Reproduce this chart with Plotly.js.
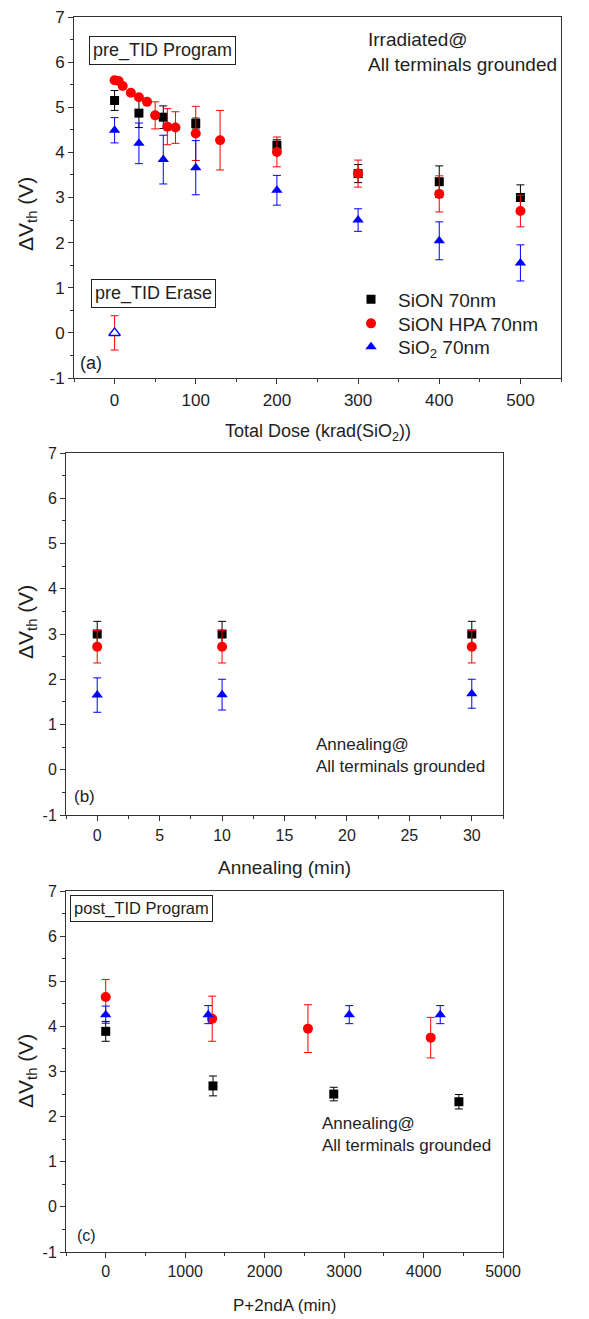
<!DOCTYPE html>
<html>
<head>
<meta charset="utf-8">
<script src="https://cdn.plot.ly/plotly-3.0.1.min.js"></script>
<style>
  html, body { margin: 0; padding: 0; background: #fff; }
  #chart { width: 589px; height: 1319px; }
</style>
</head>
<body>
<div id="chart"></div>
<script>
// ---- (a) threshold-voltage shift vs total ionizing dose ----
const doseBlack = [0, 30, 60, 100, 200, 300, 400, 500];
const vthBlack  = [5.15, 4.87, 4.78, 4.64, 4.16, 3.53, 3.35, 3.00];
const errBlack  = [0.22, 0.32, 0.25, 0.12, 0.12, 0.20, 0.35, 0.28];

const doseRed = [0, 5, 10, 20, 30, 40, 50, 65, 75, 100, 130, 200, 300, 400, 500];
const vthRed  = [5.60, 5.58, 5.47, 5.32, 5.22, 5.12, 4.82, 4.57, 4.55, 4.42, 4.27, 4.01, 3.53, 3.08, 2.70];
const errRed  = [0.04, 0.04, 0.04, 0.04, 0.04, 0.04, 0.30, 0.40, 0.35, 0.60, 0.66, 0.33, 0.30, 0.40, 0.35];

const doseBlue = [0, 30, 60, 100, 200, 300, 400, 500];
const vthBlue  = [4.49, 4.20, 3.84, 3.66, 3.16, 2.50, 2.04, 1.55];
const errBlue  = [0.28, 0.45, 0.54, 0.60, 0.33, 0.25, 0.42, 0.40];

// erased state before irradiation
const eraseDose   = [0];
const eraseRed    = [0.0];
const eraseRedErr = [0.38];
const eraseBlue   = [0.0];

// ---- (b) room-temperature annealing ----
const annealTime  = [0, 10, 30];
const annBlack    = [3.00, 3.00, 3.00];
const annBlackErr = [0.28, 0.28, 0.28];
const annRed      = [2.72, 2.72, 2.72];
const annRedErr   = [0.36, 0.36, 0.36];
const annBlue     = [1.65, 1.66, 1.68];
const annBlueErr  = [0.38, 0.34, 0.32];

// ---- (c) re-program after TID, then second annealing ----
const pTimeBlack = [0, 1350, 2870, 4445];
const pBlack     = [3.89, 2.68, 2.50, 2.33];
const pBlackErr  = [0.22, 0.22, 0.15, 0.16];
const pTimeRed   = [0, 1340, 2545, 4090];
const pRed       = [4.65, 4.17, 3.95, 3.75];
const pRedErr    = [0.39, 0.50, 0.53, 0.45];
const pTimeBlue  = [0, 1290, 3065, 4210];
const pBlue      = [4.26, 4.26, 4.26, 4.26];
const pBlueErr   = [0.19, 0.20, 0.20, 0.20];

// ---- tick labels ----
const vthTicks     = [-1, 0, 1, 2, 3, 4, 5, 6, 7];
const vthTickText  = ['-1', '0', '1', '2', '3', '4', '5', '6', '7'];
const doseTicks    = [0, 100, 200, 300, 400, 500];
const annealTicks  = [0, 5, 10, 15, 20, 25, 30];
const pTicks       = [0, 1000, 2000, 3000, 4000, 5000];

const seriesNames = ['SiON 70nm', 'SiON HPA 70nm', 'SiO<sub>2</sub> 70nm'];

// ---- styling ----
const FONT = 'Liberation Sans, Arial, sans-serif';
const TXT = '#1e1e1e';
const BLACK = '#000000', RED = '#ff0000', BLUE = '#0000ff';
const W = 589, H = 1319;
const px = x => x / W;
const py = y => 1 - y / H;

function errOpts(arr, color) {
  return { type: 'data', array: arr, visible: true, color: color, thickness: 1, width: 4 };
}
function series(x, y, err, color, symbol, size, name, xa, ya, legendId) {
  const t = {
    type: 'scatter', mode: 'markers', x: x, y: y, name: name,
    xaxis: xa, yaxis: ya, showlegend: !!legendId, cliponaxis: false,
    marker: { color: color, symbol: symbol, size: size, line: { width: 0 } },
    error_y: errOpts(err, color)
  };
  if (legendId) t.legend = legendId;
  return t;
}

const traces = [
  series(doseBlack, vthBlack, errBlack, BLACK, 'square', 9, seriesNames[0], 'x', 'y', 'legend'),
  series(doseRed, vthRed, errRed, RED, 'circle', 10, seriesNames[1], 'x', 'y', 'legend2'),
  series(doseBlue, vthBlue, errBlue, BLUE, 'triangle-up', 10, seriesNames[2], 'x', 'y', 'legend3'),
  // erase points: red error bar behind an open blue triangle
  {
    type: 'scatter', mode: 'markers', x: eraseDose, y: eraseRed, xaxis: 'x', yaxis: 'y',
    showlegend: false, marker: { color: RED, symbol: 'circle', size: 6 },
    error_y: errOpts(eraseRedErr, RED)
  },
  {
    type: 'scatter', mode: 'markers', x: eraseDose, y: eraseBlue, xaxis: 'x', yaxis: 'y',
    showlegend: false,
    marker: { color: '#ffffff', symbol: 'triangle-up', size: 10, line: { color: BLUE, width: 1.5 } }
  },

  series(annealTime, annBlack, annBlackErr, BLACK, 'square', 9, seriesNames[0], 'x2', 'y2', null),
  series(annealTime, annRed, annRedErr, RED, 'circle', 10, seriesNames[1], 'x2', 'y2', null),
  series(annealTime, annBlue, annBlueErr, BLUE, 'triangle-up', 10, seriesNames[2], 'x2', 'y2', null),

  series(pTimeBlack, pBlack, pBlackErr, BLACK, 'square', 9, seriesNames[0], 'x3', 'y3', null),
  series(pTimeRed, pRed, pRedErr, RED, 'circle', 10, seriesNames[1], 'x3', 'y3', null),
  series(pTimeBlue, pBlue, pBlueErr, BLUE, 'triangle-up', 10, seriesNames[2], 'x3', 'y3', null)
];

const axisBase = {
  showline: true, linecolor: '#333', linewidth: 1, mirror: true,
  ticks: 'outside', ticklen: 5, tickwidth: 1, tickcolor: '#333',
  showgrid: false, zeroline: false, fixedrange: true
};
function xAxis(domain, range, vals, minorStep, anchor, fs, standoff) {
  return Object.assign({}, axisBase, {
    domain: domain, range: range, anchor: anchor,
    tickfont: { family: FONT, size: fs, color: TXT },
    ticklabelstandoff: standoff,
    tickmode: 'array', tickvals: vals, ticktext: vals.map(String),
    minor: { ticks: 'outside', ticklen: 3, tickcolor: '#333', tick0: 0, dtick: minorStep, showgrid: false }
  });
}
function yAxis(domain, anchor, fs) {
  return Object.assign({}, axisBase, {
    domain: domain, range: [-1, 7], anchor: anchor,
    tickfont: { family: FONT, size: fs, color: TXT },
    tickmode: 'array', tickvals: vthTicks, ticktext: vthTickText,
    minor: { ticks: 'outside', ticklen: 3, tickcolor: '#333', tick0: 0, dtick: 0.5, showgrid: false }
  });
}

// panel frames in pixels: [left, right, top, bottom]
const boxA = [74, 561, 17, 378];
const boxB = [66, 503, 453, 815];
const boxC = [66, 503, 891, 1252];
const xd = b => [px(b[0]), px(b[1])];
const yd = b => [py(b[3]), py(b[2])];

function note(text, x, y, fs, opts) {
  return Object.assign({
    xref: 'paper', yref: 'paper', x: px(x), y: py(y), text: text, showarrow: false,
    xanchor: 'left', yanchor: 'middle', align: 'left',
    font: { family: FONT, size: fs, color: TXT }
  }, opts || {});
}
function boxed(text, x, y, fs) {
  return note(text, x, y, fs, { bordercolor: '#222', borderwidth: 1, borderpad: 3, bgcolor: '#fff' });
}
function yTitle(y) {
  return note('\u0394V<sub>th</sub> (V)', 27, y, 21, { xanchor: 'center', textangle: -90 });
}
function xTitle(text, x, y, fs) {
  return note(text, x, y, fs, { xanchor: 'center' });
}

const annotations = [
  boxed('pre_TID Program', 89, 50, 18),
  note('Irradiated@<br>All terminals grounded', 366, 52, 19),
  boxed('pre_TID Erase', 91, 293, 18),
  note('(a)', 78, 363, 18),
  yTitle(214),
  xTitle('Total Dose (krad(SiO<sub>2</sub>))', (boxA[0] + boxA[1]) / 2, 432, 18),

  note('Annealing@<br>All terminals grounded', 314, 755, 17),
  note('(b)', 72, 797, 17),
  yTitle(622),
  xTitle('Annealing (min)', (boxB[0] + boxB[1]) / 2, 868, 19),

  boxed('post_TID Program', 70, 908, 16.5),
  note('Annealing@<br>All terminals grounded', 320, 1134, 17),
  note('(c)', 75, 1235, 16),
  yTitle(1071),
  xTitle('P+2ndA (min)', (boxC[0] + boxC[1]) / 2, 1305, 17)
];

// one single-entry legend per series so each row sits at its own height
function legendAt(rowY) {
  return {
    x: px(344), y: py(rowY), xanchor: 'left', yanchor: 'middle',
    bgcolor: 'rgba(0,0,0,0)', borderwidth: 0, itemwidth: 44,
    font: { family: FONT, size: 19, color: TXT },
    itemclick: false, itemdoubleclick: false
  };
}

const layout = {
  width: W, height: H,
  margin: { l: 0, r: 0, t: 0, b: 0 },
  paper_bgcolor: '#fff', plot_bgcolor: '#fff',
  font: { family: FONT, size: 16, color: TXT },
  showlegend: true,
  legend: legendAt(299.5),
  legend2: legendAt(323.5),
  legend3: legendAt(347),
  xaxis: xAxis(xd(boxA), [-50, 550], doseTicks, 50, 'y', 17, 2),
  yaxis: yAxis(yd(boxA), 'x', 17),
  xaxis2: xAxis(xd(boxB), [-2.5, 32.5], annealTicks, 2.5, 'y2', 16, 1),
  yaxis2: yAxis(yd(boxB), 'x2', 16),
  xaxis3: xAxis(xd(boxC), [-500, 5000], pTicks, 500, 'y3', 16, 0),
  yaxis3: yAxis(yd(boxC), 'x3', 16),
  annotations: annotations
};

Plotly.newPlot('chart', traces, layout, { staticPlot: true, displayModeBar: false });
</script>
</body>
</html>
